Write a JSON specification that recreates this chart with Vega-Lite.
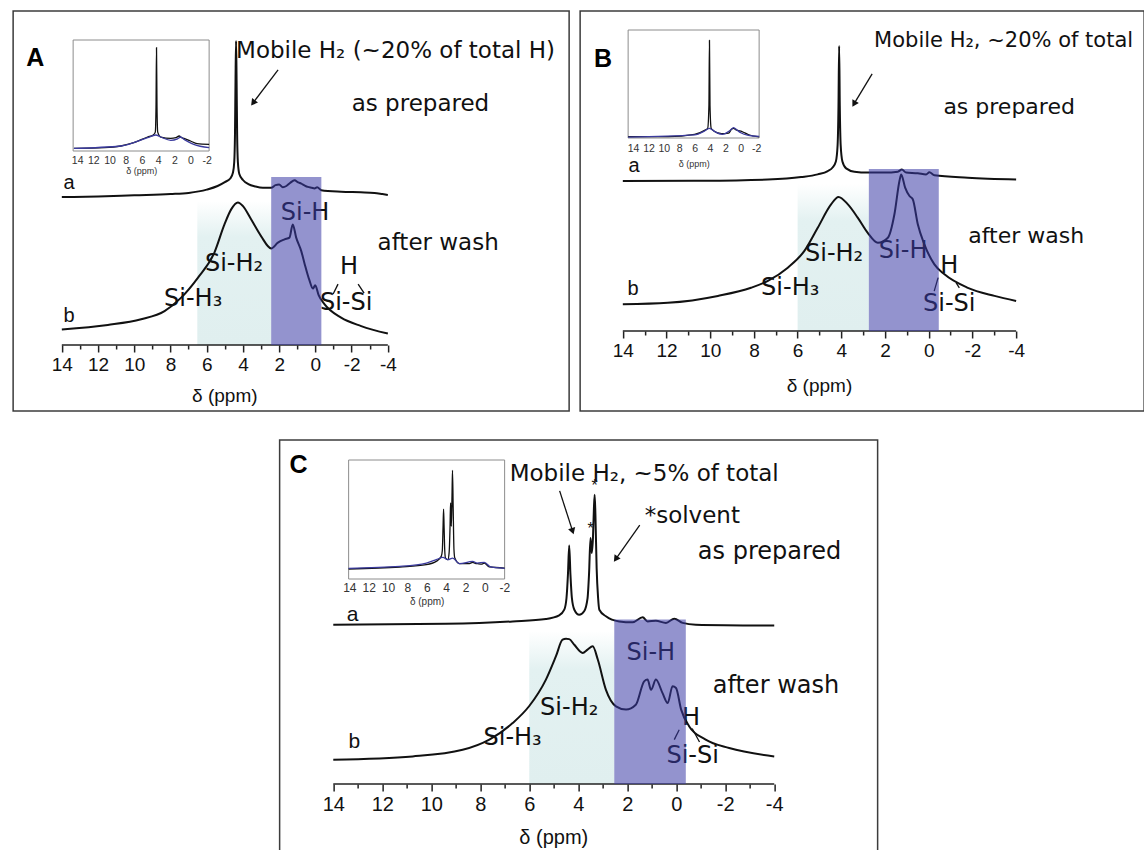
{
"$schema": "https://vega.github.io/schema/vega-lite/v6.json",
"background": "#ffffff",
"padding": {"left": 12, "top": 10, "right": 0, "bottom": 0},
"config": {"view": {"stroke": "#3c3c3c", "strokeWidth": 1.5}},
"datasets": {
"A_a": [{"ppm":14,"I":49.3},{"ppm":12,"I":49.5},{"ppm":10,"I":49.9},{"ppm":8,"I":50.3},{"ppm":7,"I":50.7},{"ppm":6,"I":51.8},{"ppm":5.4,"I":53},{"ppm":5.0,"I":54.3},{"ppm":4.7,"I":55.5},{"ppm":4.55,"I":57.5},{"ppm":4.48,"I":61},{"ppm":4.44,"I":70},{"ppm":4.41,"I":88},{"ppm":4.38,"I":101.3},{"ppm":4.35,"I":88},{"ppm":4.32,"I":70},{"ppm":4.28,"I":61},{"ppm":4.2,"I":57},{"ppm":4.0,"I":55},{"ppm":3.7,"I":53.6},{"ppm":3.3,"I":52.8},{"ppm":2.9,"I":52.4},{"ppm":2.44,"I":52.4},{"ppm":2.2,"I":53.3},{"ppm":2.0,"I":53.5},{"ppm":1.8,"I":52.6},{"ppm":1.6,"I":53},{"ppm":1.4,"I":54},{"ppm":1.15,"I":54.9},{"ppm":0.95,"I":54.2},{"ppm":0.78,"I":53.8},{"ppm":0.6,"I":53.2},{"ppm":0.42,"I":52.7},{"ppm":0.2,"I":52.4},{"ppm":0.05,"I":52.2},{"ppm":-0.1,"I":52.6},{"ppm":-0.32,"I":51.6},{"ppm":-1.42,"I":51.1},{"ppm":-2.5,"I":50.9},{"ppm":-3.26,"I":50.7},{"ppm":-3.7,"I":50.3},{"ppm":-4,"I":50.0}],
"A_b": [{"ppm":14,"I":5.2},{"ppm":11.46,"I":6.7},{"ppm":9.62,"I":8.6},{"ppm":8.33,"I":11.3},{"ppm":7.41,"I":15.8},{"ppm":6.49,"I":22.4},{"ppm":5.57,"I":30.9},{"ppm":5.02,"I":40.2},{"ppm":4.65,"I":45.2},{"ppm":4.28,"I":47.5},{"ppm":4.0,"I":46.3},{"ppm":3.55,"I":41.9},{"ppm":3.0,"I":36.3},{"ppm":2.44,"I":32.2},{"ppm":2.07,"I":34.1},{"ppm":1.7,"I":35.2},{"ppm":1.43,"I":35.8},{"ppm":1.25,"I":40.2},{"ppm":1.06,"I":35.8},{"ppm":0.78,"I":31.3},{"ppm":0.6,"I":27.2},{"ppm":0.33,"I":21.6},{"ppm":0.14,"I":18.8},{"ppm":0.01,"I":19.9},{"ppm":-0.18,"I":16.6},{"ppm":-0.5,"I":13.6},{"ppm":-1.42,"I":9.1},{"ppm":-2.53,"I":6.3},{"ppm":-4,"I":3.8}],
"A_ik": [{"ppm":14.4,"I":2.4},{"ppm":10.6,"I":3},{"ppm":8.6,"I":4.5},{"ppm":7.0,"I":7.5},{"ppm":5.3,"I":12.6},{"ppm":4.6,"I":14.5},{"ppm":4.35,"I":17},{"ppm":4.26,"I":40},{"ppm":4.2,"I":93},{"ppm":4.14,"I":40},{"ppm":4.05,"I":17},{"ppm":3.67,"I":12.6},{"ppm":2.44,"I":11.4},{"ppm":1.8,"I":12},{"ppm":1.4,"I":13.5},{"ppm":1.1,"I":12},{"ppm":0.8,"I":11.4},{"ppm":0.0,"I":9},{"ppm":-0.8,"I":6.6},{"ppm":-2.3,"I":6}],
"A_iu": [{"ppm":14.4,"I":2.4},{"ppm":8.6,"I":4.5},{"ppm":5.3,"I":12},{"ppm":4.3,"I":14.4},{"ppm":3.67,"I":12.6},{"ppm":2.44,"I":9.6},{"ppm":1.6,"I":11},{"ppm":1.2,"I":12.6},{"ppm":0.8,"I":10.5},{"ppm":0.2,"I":8},{"ppm":-0.4,"I":6},{"ppm":-2.3,"I":3}],
"A_bands": [{"band":"SiH2","ppm":6.52,"ppm2":2.44,"I":0,"I2":48},{"band":"SiH","ppm":2.44,"ppm2":-0.33,"I":0,"I2":56}],
"A_axis": [{"ppm":14,"ppm2":-4,"I":0}],
"A_inbox": [{"ppm":14.5,"ppm2":-2.3,"I":0,"I2":100}],
"A_lines": [{"ppm":-0.98,"I":17,"ppm2":-1.25,"I2":20.3},{"ppm":-2.36,"I":20.3,"ppm2":-2.69,"I2":17.3},{"ppm":2.06,"I":91.7,"ppm2":3.44,"I2":80.7}],
"A_heads": [{"ppm":3.44,"I":80.7}],
"A_text": [{"kind":"letter","ppm":15.47,"I":95.7,"label":"A"},{"kind":"head","ppm":4.38,"I":98,"label":"Mobile H₂ (~20% of total H)"},{"kind":"note","ppm":-5.8,"I":80.3,"label":"as prepared"},{"kind":"note","ppm":-6.78,"I":34,"label":"after wash"},{"kind":"si","ppm":0.57,"I":44,"label":"Si-H"},{"kind":"si","ppm":4.49,"I":27,"label":"Si-H₂"},{"kind":"si","ppm":6.75,"I":15.3,"label":"Si-H₃"},{"kind":"si","ppm":-1.86,"I":26,"label":"H"},{"kind":"si","ppm":-1.7,"I":14,"label":"Si-Si"},{"kind":"trace","ppm":13.6,"I":54,"label":"a"},{"kind":"trace","ppm":13.6,"I":9.7,"label":"b"},{"kind":"title","ppm":5,"I":-17,"label":"δ (ppm)"}],
"B_a": [{"ppm":14,"I":50},{"ppm":10.41,"I":50.1},{"ppm":7.36,"I":50.5},{"ppm":5.84,"I":51.3},{"ppm":5.08,"I":52.2},{"ppm":4.62,"I":53.3},{"ppm":4.4,"I":54.5},{"ppm":4.25,"I":56.5},{"ppm":4.17,"I":62},{"ppm":4.13,"I":75},{"ppm":4.1,"I":95},{"ppm":4.07,"I":75},{"ppm":4.03,"I":62},{"ppm":3.95,"I":56.5},{"ppm":3.78,"I":54.2},{"ppm":3.4,"I":53.1},{"ppm":2.79,"I":52.8},{"ppm":2.02,"I":52.8},{"ppm":1.41,"I":53.1},{"ppm":1.23,"I":53.8},{"ppm":1.03,"I":52.8},{"ppm":0.5,"I":52.6},{"ppm":0.12,"I":52.2},{"ppm":-0.03,"I":52.9},{"ppm":-0.26,"I":51.9},{"ppm":-1.79,"I":51.1},{"ppm":-4,"I":50.5}],
"B_b": [{"ppm":14,"I":8.9},{"ppm":11.94,"I":9.4},{"ppm":9.65,"I":11.7},{"ppm":8.13,"I":14.4},{"ppm":7.36,"I":16.7},{"ppm":6.45,"I":21.1},{"ppm":5.69,"I":26.7},{"ppm":5.08,"I":34.4},{"ppm":4.47,"I":42.2},{"ppm":4.13,"I":44.7},{"ppm":3.7,"I":42.2},{"ppm":3.25,"I":37.8},{"ppm":2.8,"I":32.8},{"ppm":2.33,"I":29.4},{"ppm":1.87,"I":31.1},{"ppm":1.57,"I":38.9},{"ppm":1.34,"I":50},{"ppm":1.26,"I":52.2},{"ppm":1.08,"I":47.8},{"ppm":0.88,"I":45},{"ppm":0.73,"I":43.9},{"ppm":0.5,"I":35.6},{"ppm":0.2,"I":28.9},{"ppm":-0.26,"I":22.2},{"ppm":-0.72,"I":18.9},{"ppm":-1.79,"I":14.4},{"ppm":-3.01,"I":11.7},{"ppm":-4,"I":10}],
"B_ik": [{"ppm":14.65,"I":1.2},{"ppm":9.45,"I":1.2},{"ppm":6.0,"I":3.4},{"ppm":4.7,"I":7.1},{"ppm":4.3,"I":9},{"ppm":4.14,"I":30},{"ppm":4.07,"I":90.4},{"ppm":4.0,"I":30},{"ppm":3.85,"I":9},{"ppm":3.55,"I":6.8},{"ppm":2.5,"I":4},{"ppm":1.58,"I":4.5},{"ppm":1.2,"I":8},{"ppm":0.93,"I":9},{"ppm":0.6,"I":7.5},{"ppm":-0.16,"I":6},{"ppm":-1.04,"I":3},{"ppm":-2.39,"I":1}],
"B_iu": [{"ppm":14.65,"I":0.9},{"ppm":6.0,"I":2.8},{"ppm":4.7,"I":6.5},{"ppm":4.07,"I":9},{"ppm":3.4,"I":6},{"ppm":2.4,"I":3.4},{"ppm":1.4,"I":7},{"ppm":0.93,"I":9.6},{"ppm":0.5,"I":7.4},{"ppm":0.0,"I":4.9},{"ppm":-1,"I":2.5},{"ppm":-2.39,"I":1.5}],
"B_bands": [{"band":"SiH2","ppm":6.0,"ppm2":2.74,"I":0,"I2":49},{"band":"SiH","ppm":2.74,"ppm2":-0.46,"I":0,"I2":54}],
"B_axis": [{"ppm":14,"ppm2":-4,"I":0}],
"B_inbox": [{"ppm":14.65,"ppm2":-2.39,"I":0,"I2":100}],
"B_lines": [{"ppm":-0.25,"I":13.3,"ppm2":-0.43,"I2":17.8},{"ppm":-1.25,"I":16.1,"ppm2":-1.4,"I2":14.4},{"ppm":2.59,"I":85.7,"ppm2":3.42,"I2":75.7}],
"B_heads": [{"ppm":3.42,"I":75.7}],
"B_text": [{"kind":"letter","ppm":14.9,"I":90.7,"label":"B"},{"kind":"head","ppm":2.5,"I":96.7,"label":"Mobile H₂, ~20% of total"},{"kind":"note","ppm":-3.68,"I":74.7,"label":"as prepared"},{"kind":"note","ppm":-4.46,"I":31.7,"label":"after wash"},{"kind":"si","ppm":1.17,"I":26.7,"label":"Si-H"},{"kind":"si","ppm":4.33,"I":25.7,"label":"Si-H₂"},{"kind":"si","ppm":6.34,"I":14.3,"label":"Si-H₃"},{"kind":"si","ppm":-0.94,"I":21.7,"label":"H"},{"kind":"si","ppm":-0.94,"I":9,"label":"Si-Si"},{"kind":"trace","ppm":13.48,"I":55,"label":"a"},{"kind":"trace","ppm":13.53,"I":14,"label":"b"},{"kind":"title","ppm":5,"I":-18.3,"label":"δ (ppm)"}],
"C_a": [{"ppm":14,"I":53.1},{"ppm":9.4,"I":53.4},{"ppm":6.68,"I":54.2},{"ppm":5.32,"I":55},{"ppm":4.78,"I":56.2},{"ppm":4.57,"I":58.1},{"ppm":4.48,"I":62},{"ppm":4.42,"I":70},{"ppm":4.37,"I":79.5},{"ppm":4.32,"I":70},{"ppm":4.26,"I":62},{"ppm":4.16,"I":58.1},{"ppm":3.96,"I":56.4},{"ppm":3.76,"I":57.6},{"ppm":3.62,"I":62},{"ppm":3.56,"I":70},{"ppm":3.5,"I":82},{"ppm":3.45,"I":77},{"ppm":3.4,"I":82},{"ppm":3.36,"I":92},{"ppm":3.33,"I":96.4},{"ppm":3.3,"I":90},{"ppm":3.25,"I":72},{"ppm":3.19,"I":62},{"ppm":3.14,"I":58.1},{"ppm":2.87,"I":55.9},{"ppm":2.33,"I":54.2},{"ppm":1.78,"I":53.9},{"ppm":1.37,"I":55.6},{"ppm":1.17,"I":54.2},{"ppm":0.83,"I":54.4},{"ppm":0.42,"I":53.7},{"ppm":0.08,"I":55.1},{"ppm":-0.26,"I":53.7},{"ppm":-0.8,"I":53.1},{"ppm":-4,"I":52.8}],
"C_b": [{"ppm":14,"I":8.1},{"ppm":10.76,"I":9.2},{"ppm":8.72,"I":11.4},{"ppm":7.63,"I":14.8},{"ppm":6.68,"I":20.3},{"ppm":6.0,"I":26},{"ppm":5.32,"I":34.8},{"ppm":4.91,"I":42.6},{"ppm":4.64,"I":48.1},{"ppm":4.5,"I":48.4},{"ppm":4.37,"I":48.3},{"ppm":4.16,"I":46.4},{"ppm":3.82,"I":43.7},{"ppm":3.62,"I":44.8},{"ppm":3.41,"I":45.9},{"ppm":3.2,"I":41.4},{"ppm":2.87,"I":31.4},{"ppm":2.46,"I":25.9},{"ppm":2.05,"I":24.8},{"ppm":1.65,"I":26.4},{"ppm":1.31,"I":34.2},{"ppm":1.17,"I":34.8},{"ppm":1.03,"I":31.4},{"ppm":0.83,"I":34.8},{"ppm":0.56,"I":30.3},{"ppm":0.35,"I":27},{"ppm":0.15,"I":32.6},{"ppm":0.01,"I":32},{"ppm":-0.2,"I":24.8},{"ppm":-0.53,"I":19.2},{"ppm":-1.2,"I":14.8},{"ppm":-2.16,"I":12},{"ppm":-4,"I":9.2}],
"C_ik": [{"ppm":14.07,"I":8.4},{"ppm":8.8,"I":10.1},{"ppm":6.05,"I":12},{"ppm":5.03,"I":14.8},{"ppm":4.51,"I":19},{"ppm":4.4,"I":24},{"ppm":4.32,"I":45},{"ppm":4.27,"I":58.8},{"ppm":4.22,"I":45},{"ppm":4.15,"I":24},{"ppm":4.07,"I":17.6},{"ppm":3.83,"I":16.2},{"ppm":3.7,"I":22},{"ppm":3.6,"I":45},{"ppm":3.55,"I":63.9},{"ppm":3.47,"I":44.3},{"ppm":3.4,"I":70},{"ppm":3.35,"I":91.3},{"ppm":3.28,"I":60},{"ppm":3.2,"I":25},{"ppm":3.11,"I":17.6},{"ppm":2.63,"I":12.9},{"ppm":1.6,"I":13},{"ppm":1.26,"I":14},{"ppm":1.0,"I":13.2},{"ppm":0.75,"I":12.9},{"ppm":0.3,"I":12.5},{"ppm":0.06,"I":13.4},{"ppm":-0.45,"I":10.1},{"ppm":-2.03,"I":9.2}],
"C_iu": [{"ppm":14.07,"I":9},{"ppm":8.8,"I":10.6},{"ppm":6.05,"I":13.4},{"ppm":5.03,"I":16.2},{"ppm":4.34,"I":18.2},{"ppm":3.83,"I":16.2},{"ppm":3.32,"I":17.6},{"ppm":2.63,"I":12.9},{"ppm":1.26,"I":14.8},{"ppm":0.8,"I":13.4},{"ppm":0.06,"I":14},{"ppm":-0.6,"I":10.1},{"ppm":-2.03,"I":9}],
"C_bands": [{"band":"SiH2","ppm":6.0,"ppm2":2.53,"I":0,"I2":51},{"band":"SiH","ppm":2.53,"ppm2":-0.39,"I":0,"I2":54.8}],
"C_axis": [{"ppm":14,"ppm2":-4,"I":0}],
"C_inbox": [{"ppm":14.07,"ppm2":-2.03,"I":0,"I2":100}],
"C_lines": [{"ppm":0.08,"I":14.8,"ppm2":-0.12,"I2":18.1},{"ppm":-0.65,"I":18.5,"ppm2":-0.95,"I2":14},{"ppm":4.76,"I":97.7,"ppm2":4.23,"I2":84.3},{"ppm":1.49,"I":86.3,"ppm2":2.47,"I2":75}],
"C_heads": [{"target":"H2","ppm":4.23,"I":84.3},{"target":"solvent","ppm":2.47,"I":75}],
"C_text": [{"kind":"letter","ppm":15.42,"I":106.3,"label":"C"},{"kind":"head","ppm":6.8,"I":103.5,"label":"Mobile H₂, ~5% of total"},{"kind":"head","ppm":1.29,"I":89.3,"label":"*solvent"},{"kind":"note","ppm":-3.81,"I":77.5,"label":"as prepared"},{"kind":"note","ppm":-4.07,"I":32.7,"label":"after wash"},{"kind":"si","ppm":1.04,"I":43.7,"label":"Si-H"},{"kind":"si","ppm":4.37,"I":25.3,"label":"Si-H₂"},{"kind":"si","ppm":6.68,"I":15.3,"label":"Si-H₃"},{"kind":"si","ppm":-0.6,"I":22,"label":"H"},{"kind":"si","ppm":-0.67,"I":9.2,"label":"Si-Si"},{"kind":"trace","ppm":13.21,"I":56.4,"label":"a"},{"kind":"trace","ppm":13.14,"I":13.9,"label":"b"},{"kind":"star","ppm":3.33,"I":99.5,"label":"*"},{"kind":"star","ppm":3.5,"I":85,"label":"*"},{"kind":"title","ppm":5,"I":-18,"label":"δ (ppm)"}]
},
"center": true,
"spacing": 27,
"vconcat": [
{"bounds": "flush", "spacing": 11, "hconcat": [
{
"width": 556, "height": 400,
"resolve": {"scale": {"x": "independent", "y": "independent"}, "axis": {"x": "independent", "y": "independent"}},
"layer": [
{"data": {"name": "A_bands"}, "transform": [{"filter": "datum.band == 'SiH2'"}], "mark": {"type": "rect", "fill": {"gradient": "linear", "x1": 0, "y1": 0, "x2": 0, "y2": 1, "stops": [{"offset": 0, "color": "#ffffff"}, {"offset": 0.25, "color": "#e3f1f1"}, {"offset": 1, "color": "#e0efef"}]}}, "encoding": {"x": {"field": "ppm", "type": "quantitative", "scale": {"domain": [16.689, -14.01], "nice": false, "zero": false}, "axis": null}, "x2": {"field": "ppm2"}, "y": {"field": "I", "type": "quantitative", "scale": {"domain": [-22, 111.33], "nice": false, "zero": false}, "axis": null}, "y2": {"field": "I2"}}},
{"data": {"name": "A_a"}, "mark": {"type": "line", "color": "#111", "strokeWidth": 2, "interpolate": "monotone"}, "encoding": {"x": {"field": "ppm", "type": "quantitative", "scale": {"domain": [16.689, -14.01], "nice": false, "zero": false}, "axis": null}, "y": {"field": "I", "type": "quantitative", "scale": {"domain": [-22, 111.33], "nice": false, "zero": false}, "axis": null}}},
{"data": {"name": "A_b"}, "mark": {"type": "line", "color": "#111", "strokeWidth": 2, "interpolate": "monotone"}, "encoding": {"x": {"field": "ppm", "type": "quantitative", "scale": {"domain": [16.689, -14.01], "nice": false, "zero": false}, "axis": null}, "y": {"field": "I", "type": "quantitative", "scale": {"domain": [-22, 111.33], "nice": false, "zero": false}, "axis": null}}},
{"data": {"name": "A_axis"}, "mark": {"type": "rule", "color": "#222", "strokeWidth": 1.5}, "encoding": {"x": {"field": "ppm", "type": "quantitative", "scale": {"domain": [16.689, -14.01], "nice": false, "zero": false}, "axis": {"orient": "bottom", "values": [14,13,12,11,10,9,8,7,6,5,4,3,2,1,0,-1,-2,-3,-4], "labelExpr": "datum.value % 2 === 0 ? '' + datum.value : ''", "offset": -66, "domain": false, "ticks": true, "tickSize": {"condition": {"test": "datum.value % 2 === 0", "value": 7}, "value": 4}, "tickColor": "#222", "tickWidth": 1.5, "labelFont": "Liberation Sans", "labelFontSize": 19, "labelColor": "#111", "labelPadding": 3, "grid": false, "title": null, "labelFlush": false, "labelOverlap": false, "labelBound": false}}, "x2": {"field": "ppm2"}, "y": {"field": "I", "type": "quantitative", "scale": {"domain": [-22, 111.33], "nice": false, "zero": false}, "axis": null}}},
{"data": {"name": "A_lines"}, "mark": {"type": "rule", "color": "#111", "strokeWidth": 1.3}, "encoding": {"x": {"field": "ppm", "type": "quantitative", "scale": {"domain": [16.689, -14.01], "nice": false, "zero": false}, "axis": null}, "x2": {"field": "ppm2"}, "y": {"field": "I", "type": "quantitative", "scale": {"domain": [-22, 111.33], "nice": false, "zero": false}, "axis": null}, "y2": {"field": "I2"}}},
{"data": {"name": "A_heads"}, "mark": {"type": "point", "shape": "triangle-up", "filled": true, "color": "#111", "size": 55, "angle": 217, "opacity": 1}, "encoding": {"x": {"field": "ppm", "type": "quantitative", "scale": {"domain": [16.689, -14.01], "nice": false, "zero": false}, "axis": null}, "y": {"field": "I", "type": "quantitative", "scale": {"domain": [-22, 111.33], "nice": false, "zero": false}, "axis": null}}},
{"data": {"name": "A_text"}, "transform": [{"filter": "datum.kind == 'letter'"}], "mark": {"type": "text", "font": "Liberation Sans", "fontWeight": "bold", "fontSize": 25, "align": "center", "baseline": "middle", "color": "#000"}, "encoding": {"x": {"field": "ppm", "type": "quantitative", "scale": {"domain": [16.689, -14.01], "nice": false, "zero": false}, "axis": null}, "y": {"field": "I", "type": "quantitative", "scale": {"domain": [-22, 111.33], "nice": false, "zero": false}, "axis": null}, "text": {"field": "label"}}},
{"data": {"name": "A_text"}, "transform": [{"filter": "datum.kind == 'head'"}], "mark": {"type": "text", "font": "DejaVu Sans", "fontSize": 23, "align": "left", "baseline": "middle", "color": "#111"}, "encoding": {"x": {"field": "ppm", "type": "quantitative", "scale": {"domain": [16.689, -14.01], "nice": false, "zero": false}, "axis": null}, "y": {"field": "I", "type": "quantitative", "scale": {"domain": [-22, 111.33], "nice": false, "zero": false}, "axis": null}, "text": {"field": "label"}}},
{"data": {"name": "A_text"}, "transform": [{"filter": "datum.kind == 'note'"}], "mark": {"type": "text", "font": "DejaVu Sans", "fontSize": 23, "align": "center", "baseline": "middle", "color": "#111"}, "encoding": {"x": {"field": "ppm", "type": "quantitative", "scale": {"domain": [16.689, -14.01], "nice": false, "zero": false}, "axis": null}, "y": {"field": "I", "type": "quantitative", "scale": {"domain": [-22, 111.33], "nice": false, "zero": false}, "axis": null}, "text": {"field": "label"}}},
{"data": {"name": "A_text"}, "transform": [{"filter": "datum.kind == 'si'"}], "mark": {"type": "text", "font": "DejaVu Sans", "fontSize": 24, "align": "center", "baseline": "middle", "color": "#111"}, "encoding": {"x": {"field": "ppm", "type": "quantitative", "scale": {"domain": [16.689, -14.01], "nice": false, "zero": false}, "axis": null}, "y": {"field": "I", "type": "quantitative", "scale": {"domain": [-22, 111.33], "nice": false, "zero": false}, "axis": null}, "text": {"field": "label"}}},
{"data": {"name": "A_text"}, "transform": [{"filter": "datum.kind == 'trace'"}], "mark": {"type": "text", "font": "Liberation Sans", "fontSize": 20, "align": "center", "baseline": "middle", "color": "#111"}, "encoding": {"x": {"field": "ppm", "type": "quantitative", "scale": {"domain": [16.689, -14.01], "nice": false, "zero": false}, "axis": null}, "y": {"field": "I", "type": "quantitative", "scale": {"domain": [-22, 111.33], "nice": false, "zero": false}, "axis": null}, "text": {"field": "label"}}},
{"data": {"name": "A_text"}, "transform": [{"filter": "datum.kind == 'title'"}], "mark": {"type": "text", "font": "Liberation Sans", "fontSize": 19, "align": "center", "baseline": "middle", "color": "#111"}, "encoding": {"x": {"field": "ppm", "type": "quantitative", "scale": {"domain": [16.689, -14.01], "nice": false, "zero": false}, "axis": null}, "y": {"field": "I", "type": "quantitative", "scale": {"domain": [-22, 111.33], "nice": false, "zero": false}, "axis": null}, "text": {"field": "label"}}},
{"data": {"name": "A_bands"}, "transform": [{"filter": "datum.band == 'SiH'"}], "mark": {"type": "rect", "color": "#3a3aa6", "opacity": 0.55}, "encoding": {"x": {"field": "ppm", "type": "quantitative", "scale": {"domain": [16.689, -14.01], "nice": false, "zero": false}, "axis": null}, "x2": {"field": "ppm2"}, "y": {"field": "I", "type": "quantitative", "scale": {"domain": [-22, 111.33], "nice": false, "zero": false}, "axis": null}, "y2": {"field": "I2"}}},
{"data": {"name": "A_inbox"}, "mark": {"type": "rect", "fillOpacity": 0, "stroke": "#8c8c8c", "strokeWidth": 1}, "encoding": {"x": {"field": "ppm", "type": "quantitative", "scale": {"domain": [14.5, -2.3], "range": [60, 196], "nice": false, "zero": false}, "axis": {"orient": "bottom", "values": [14,12,10,8,6,4,2,0,-2], "labelExpr": "'' + datum.value", "offset": -260, "domain": false, "ticks": false, "labelFont": "Liberation Sans", "labelFontSize": 10.5, "labelColor": "#333", "labelPadding": 4, "grid": false, "title": "δ (ppm)", "titleFont": "Liberation Sans", "titleFontSize": 9, "titleFontWeight": "normal", "titleColor": "#333", "titlePadding": 1, "labelFlush": false, "labelOverlap": false, "labelBound": false}}, "x2": {"field": "ppm2"}, "y": {"field": "I", "type": "quantitative", "scale": {"domain": [0, 100], "range": [140, 29], "nice": false, "zero": false}, "axis": null}, "y2": {"field": "I2"}}},
{"data": {"name": "A_ik"}, "mark": {"type": "line", "color": "#111", "strokeWidth": 1.3, "interpolate": "monotone"}, "encoding": {"x": {"field": "ppm", "type": "quantitative", "scale": {"domain": [14.5, -2.3], "range": [60, 196], "nice": false, "zero": false}, "axis": null}, "y": {"field": "I", "type": "quantitative", "scale": {"domain": [0, 100], "range": [140, 29], "nice": false, "zero": false}, "axis": null}}},
{"data": {"name": "A_iu"}, "mark": {"type": "line", "color": "#3b3b9e", "strokeWidth": 1.3, "interpolate": "monotone"}, "encoding": {"x": {"field": "ppm", "type": "quantitative", "scale": {"domain": [14.5, -2.3], "range": [60, 196], "nice": false, "zero": false}, "axis": null}, "y": {"field": "I", "type": "quantitative", "scale": {"domain": [0, 100], "range": [140, 29], "nice": false, "zero": false}, "axis": null}}}
]
},
{
"width": 564, "height": 400,
"resolve": {"scale": {"x": "independent", "y": "independent"}, "axis": {"x": "independent", "y": "independent"}},
"layer": [
{"data": {"name": "B_bands"}, "transform": [{"filter": "datum.band == 'SiH2'"}], "mark": {"type": "rect", "fill": {"gradient": "linear", "x1": 0, "y1": 0, "x2": 0, "y2": 1, "stops": [{"offset": 0, "color": "#ffffff"}, {"offset": 0.25, "color": "#e3f1f1"}, {"offset": 1, "color": "#e0efef"}]}}, "encoding": {"x": {"field": "ppm", "type": "quantitative", "scale": {"domain": [15.954, -9.858], "nice": false, "zero": false}, "axis": null}, "x2": {"field": "ppm2"}, "y": {"field": "I", "type": "quantitative", "scale": {"domain": [-26.67, 106.67], "nice": false, "zero": false}, "axis": null}, "y2": {"field": "I2"}}},
{"data": {"name": "B_a"}, "mark": {"type": "line", "color": "#111", "strokeWidth": 2, "interpolate": "monotone"}, "encoding": {"x": {"field": "ppm", "type": "quantitative", "scale": {"domain": [15.954, -9.858], "nice": false, "zero": false}, "axis": null}, "y": {"field": "I", "type": "quantitative", "scale": {"domain": [-26.67, 106.67], "nice": false, "zero": false}, "axis": null}}},
{"data": {"name": "B_b"}, "mark": {"type": "line", "color": "#111", "strokeWidth": 2, "interpolate": "monotone"}, "encoding": {"x": {"field": "ppm", "type": "quantitative", "scale": {"domain": [15.954, -9.858], "nice": false, "zero": false}, "axis": null}, "y": {"field": "I", "type": "quantitative", "scale": {"domain": [-26.67, 106.67], "nice": false, "zero": false}, "axis": null}}},
{"data": {"name": "B_axis"}, "mark": {"type": "rule", "color": "#222", "strokeWidth": 1.5}, "encoding": {"x": {"field": "ppm", "type": "quantitative", "scale": {"domain": [15.954, -9.858], "nice": false, "zero": false}, "axis": {"orient": "bottom", "values": [14,13,12,11,10,9,8,7,6,5,4,3,2,1,0,-1,-2,-3,-4], "labelExpr": "datum.value % 2 === 0 ? '' + datum.value : ''", "offset": -80, "domain": false, "ticks": true, "tickSize": {"condition": {"test": "datum.value % 2 === 0", "value": 7}, "value": 4}, "tickColor": "#222", "tickWidth": 1.5, "labelFont": "Liberation Sans", "labelFontSize": 19, "labelColor": "#111", "labelPadding": 3, "grid": false, "title": null, "labelFlush": false, "labelOverlap": false, "labelBound": false}}, "x2": {"field": "ppm2"}, "y": {"field": "I", "type": "quantitative", "scale": {"domain": [-26.67, 106.67], "nice": false, "zero": false}, "axis": null}}},
{"data": {"name": "B_lines"}, "mark": {"type": "rule", "color": "#111", "strokeWidth": 1.3}, "encoding": {"x": {"field": "ppm", "type": "quantitative", "scale": {"domain": [15.954, -9.858], "nice": false, "zero": false}, "axis": null}, "x2": {"field": "ppm2"}, "y": {"field": "I", "type": "quantitative", "scale": {"domain": [-26.67, 106.67], "nice": false, "zero": false}, "axis": null}, "y2": {"field": "I2"}}},
{"data": {"name": "B_heads"}, "mark": {"type": "point", "shape": "triangle-up", "filled": true, "color": "#111", "size": 55, "angle": 210, "opacity": 1}, "encoding": {"x": {"field": "ppm", "type": "quantitative", "scale": {"domain": [15.954, -9.858], "nice": false, "zero": false}, "axis": null}, "y": {"field": "I", "type": "quantitative", "scale": {"domain": [-26.67, 106.67], "nice": false, "zero": false}, "axis": null}}},
{"data": {"name": "B_text"}, "transform": [{"filter": "datum.kind == 'letter'"}], "mark": {"type": "text", "font": "Liberation Sans", "fontWeight": "bold", "fontSize": 25, "align": "center", "baseline": "middle", "color": "#000"}, "encoding": {"x": {"field": "ppm", "type": "quantitative", "scale": {"domain": [15.954, -9.858], "nice": false, "zero": false}, "axis": null}, "y": {"field": "I", "type": "quantitative", "scale": {"domain": [-26.67, 106.67], "nice": false, "zero": false}, "axis": null}, "text": {"field": "label"}}},
{"data": {"name": "B_text"}, "transform": [{"filter": "datum.kind == 'head'"}], "mark": {"type": "text", "font": "DejaVu Sans", "fontSize": 21, "align": "left", "baseline": "middle", "color": "#111"}, "encoding": {"x": {"field": "ppm", "type": "quantitative", "scale": {"domain": [15.954, -9.858], "nice": false, "zero": false}, "axis": null}, "y": {"field": "I", "type": "quantitative", "scale": {"domain": [-26.67, 106.67], "nice": false, "zero": false}, "axis": null}, "text": {"field": "label"}}},
{"data": {"name": "B_text"}, "transform": [{"filter": "datum.kind == 'note'"}], "mark": {"type": "text", "font": "DejaVu Sans", "fontSize": 22, "align": "center", "baseline": "middle", "color": "#111"}, "encoding": {"x": {"field": "ppm", "type": "quantitative", "scale": {"domain": [15.954, -9.858], "nice": false, "zero": false}, "axis": null}, "y": {"field": "I", "type": "quantitative", "scale": {"domain": [-26.67, 106.67], "nice": false, "zero": false}, "axis": null}, "text": {"field": "label"}}},
{"data": {"name": "B_text"}, "transform": [{"filter": "datum.kind == 'si'"}], "mark": {"type": "text", "font": "DejaVu Sans", "fontSize": 24, "align": "center", "baseline": "middle", "color": "#111"}, "encoding": {"x": {"field": "ppm", "type": "quantitative", "scale": {"domain": [15.954, -9.858], "nice": false, "zero": false}, "axis": null}, "y": {"field": "I", "type": "quantitative", "scale": {"domain": [-26.67, 106.67], "nice": false, "zero": false}, "axis": null}, "text": {"field": "label"}}},
{"data": {"name": "B_text"}, "transform": [{"filter": "datum.kind == 'trace'"}], "mark": {"type": "text", "font": "Liberation Sans", "fontSize": 20, "align": "center", "baseline": "middle", "color": "#111"}, "encoding": {"x": {"field": "ppm", "type": "quantitative", "scale": {"domain": [15.954, -9.858], "nice": false, "zero": false}, "axis": null}, "y": {"field": "I", "type": "quantitative", "scale": {"domain": [-26.67, 106.67], "nice": false, "zero": false}, "axis": null}, "text": {"field": "label"}}},
{"data": {"name": "B_text"}, "transform": [{"filter": "datum.kind == 'title'"}], "mark": {"type": "text", "font": "Liberation Sans", "fontSize": 19, "align": "center", "baseline": "middle", "color": "#111"}, "encoding": {"x": {"field": "ppm", "type": "quantitative", "scale": {"domain": [15.954, -9.858], "nice": false, "zero": false}, "axis": null}, "y": {"field": "I", "type": "quantitative", "scale": {"domain": [-26.67, 106.67], "nice": false, "zero": false}, "axis": null}, "text": {"field": "label"}}},
{"data": {"name": "B_bands"}, "transform": [{"filter": "datum.band == 'SiH'"}], "mark": {"type": "rect", "color": "#3a3aa6", "opacity": 0.55}, "encoding": {"x": {"field": "ppm", "type": "quantitative", "scale": {"domain": [15.954, -9.858], "nice": false, "zero": false}, "axis": null}, "x2": {"field": "ppm2"}, "y": {"field": "I", "type": "quantitative", "scale": {"domain": [-26.67, 106.67], "nice": false, "zero": false}, "axis": null}, "y2": {"field": "I2"}}},
{"data": {"name": "B_inbox"}, "mark": {"type": "rect", "fillOpacity": 0, "stroke": "#8c8c8c", "strokeWidth": 1}, "encoding": {"x": {"field": "ppm", "type": "quantitative", "scale": {"domain": [14.65, -2.39], "range": [48, 179], "nice": false, "zero": false}, "axis": {"orient": "bottom", "values": [14,12,10,8,6,4,2,0,-2], "labelExpr": "'' + datum.value", "offset": -273, "domain": false, "ticks": false, "labelFont": "Liberation Sans", "labelFontSize": 10.5, "labelColor": "#333", "labelPadding": 5, "grid": false, "title": "δ (ppm)", "titleFont": "Liberation Sans", "titleFontSize": 9, "titleFontWeight": "normal", "titleColor": "#333", "titlePadding": 6, "labelFlush": false, "labelOverlap": false, "labelBound": false}}, "x2": {"field": "ppm2"}, "y": {"field": "I", "type": "quantitative", "scale": {"domain": [0, 100], "range": [127, 19], "nice": false, "zero": false}, "axis": null}, "y2": {"field": "I2"}}},
{"data": {"name": "B_ik"}, "mark": {"type": "line", "color": "#111", "strokeWidth": 1.3, "interpolate": "monotone"}, "encoding": {"x": {"field": "ppm", "type": "quantitative", "scale": {"domain": [14.65, -2.39], "range": [48, 179], "nice": false, "zero": false}, "axis": null}, "y": {"field": "I", "type": "quantitative", "scale": {"domain": [0, 100], "range": [127, 19], "nice": false, "zero": false}, "axis": null}}},
{"data": {"name": "B_iu"}, "mark": {"type": "line", "color": "#3b3b9e", "strokeWidth": 1.3, "interpolate": "monotone"}, "encoding": {"x": {"field": "ppm", "type": "quantitative", "scale": {"domain": [14.65, -2.39], "range": [48, 179], "nice": false, "zero": false}, "axis": null}, "y": {"field": "I", "type": "quantitative", "scale": {"domain": [0, 100], "range": [127, 19], "nice": false, "zero": false}, "axis": null}}}
]
}
]},
{
"width": 598, "height": 411,
"resolve": {"scale": {"x": "independent", "y": "independent"}, "axis": {"x": "independent", "y": "independent"}},
"layer": [
{"data": {"name": "C_bands"}, "transform": [{"filter": "datum.band == 'SiH2'"}], "mark": {"type": "rect", "fill": {"gradient": "linear", "x1": 0, "y1": 0, "x2": 0, "y2": 1, "stops": [{"offset": 0, "color": "#ffffff"}, {"offset": 0.25, "color": "#e3f1f1"}, {"offset": 1, "color": "#e0efef"}]}}, "encoding": {"x": {"field": "ppm", "type": "quantitative", "scale": {"domain": [16.19, -8.22], "nice": false, "zero": false}, "axis": null}, "x2": {"field": "ppm2"}, "y": {"field": "I", "type": "quantitative", "scale": {"domain": [-22.33, 114.67], "nice": false, "zero": false}, "axis": null}, "y2": {"field": "I2"}}},
{"data": {"name": "C_a"}, "mark": {"type": "line", "color": "#111", "strokeWidth": 2, "interpolate": "monotone"}, "encoding": {"x": {"field": "ppm", "type": "quantitative", "scale": {"domain": [16.19, -8.22], "nice": false, "zero": false}, "axis": null}, "y": {"field": "I", "type": "quantitative", "scale": {"domain": [-22.33, 114.67], "nice": false, "zero": false}, "axis": null}}},
{"data": {"name": "C_b"}, "mark": {"type": "line", "color": "#111", "strokeWidth": 2, "interpolate": "monotone"}, "encoding": {"x": {"field": "ppm", "type": "quantitative", "scale": {"domain": [16.19, -8.22], "nice": false, "zero": false}, "axis": null}, "y": {"field": "I", "type": "quantitative", "scale": {"domain": [-22.33, 114.67], "nice": false, "zero": false}, "axis": null}}},
{"data": {"name": "C_axis"}, "mark": {"type": "rule", "color": "#222", "strokeWidth": 1.5}, "encoding": {"x": {"field": "ppm", "type": "quantitative", "scale": {"domain": [16.19, -8.22], "nice": false, "zero": false}, "axis": {"orient": "bottom", "values": [14,13,12,11,10,9,8,7,6,5,4,3,2,1,0,-1,-2,-3,-4], "labelExpr": "datum.value % 2 === 0 ? '' + datum.value : ''", "offset": -67, "domain": false, "ticks": true, "tickSize": {"condition": {"test": "datum.value % 2 === 0", "value": 7}, "value": 4}, "tickColor": "#222", "tickWidth": 1.5, "labelFont": "Liberation Sans", "labelFontSize": 20, "labelColor": "#111", "labelPadding": 3, "grid": false, "title": null, "labelFlush": false, "labelOverlap": false, "labelBound": false}}, "x2": {"field": "ppm2"}, "y": {"field": "I", "type": "quantitative", "scale": {"domain": [-22.33, 114.67], "nice": false, "zero": false}, "axis": null}}},
{"data": {"name": "C_lines"}, "mark": {"type": "rule", "color": "#111", "strokeWidth": 1.3}, "encoding": {"x": {"field": "ppm", "type": "quantitative", "scale": {"domain": [16.19, -8.22], "nice": false, "zero": false}, "axis": null}, "x2": {"field": "ppm2"}, "y": {"field": "I", "type": "quantitative", "scale": {"domain": [-22.33, 114.67], "nice": false, "zero": false}, "axis": null}, "y2": {"field": "I2"}}},
{"data": {"name": "C_heads"}, "transform": [{"filter": "datum.target == 'H2'"}], "mark": {"type": "point", "shape": "triangle-up", "filled": true, "color": "#111", "size": 55, "angle": 162, "opacity": 1}, "encoding": {"x": {"field": "ppm", "type": "quantitative", "scale": {"domain": [16.19, -8.22], "nice": false, "zero": false}, "axis": null}, "y": {"field": "I", "type": "quantitative", "scale": {"domain": [-22.33, 114.67], "nice": false, "zero": false}, "axis": null}}},
{"data": {"name": "C_heads"}, "transform": [{"filter": "datum.target == 'solvent'"}], "mark": {"type": "point", "shape": "triangle-up", "filled": true, "color": "#111", "size": 55, "angle": 215, "opacity": 1}, "encoding": {"x": {"field": "ppm", "type": "quantitative", "scale": {"domain": [16.19, -8.22], "nice": false, "zero": false}, "axis": null}, "y": {"field": "I", "type": "quantitative", "scale": {"domain": [-22.33, 114.67], "nice": false, "zero": false}, "axis": null}}},
{"data": {"name": "C_text"}, "transform": [{"filter": "datum.kind == 'letter'"}], "mark": {"type": "text", "font": "Liberation Sans", "fontWeight": "bold", "fontSize": 25, "align": "center", "baseline": "middle", "color": "#000"}, "encoding": {"x": {"field": "ppm", "type": "quantitative", "scale": {"domain": [16.19, -8.22], "nice": false, "zero": false}, "axis": null}, "y": {"field": "I", "type": "quantitative", "scale": {"domain": [-22.33, 114.67], "nice": false, "zero": false}, "axis": null}, "text": {"field": "label"}}},
{"data": {"name": "C_text"}, "transform": [{"filter": "datum.kind == 'head'"}], "mark": {"type": "text", "font": "DejaVu Sans", "fontSize": 23, "align": "left", "baseline": "middle", "color": "#111"}, "encoding": {"x": {"field": "ppm", "type": "quantitative", "scale": {"domain": [16.19, -8.22], "nice": false, "zero": false}, "axis": null}, "y": {"field": "I", "type": "quantitative", "scale": {"domain": [-22.33, 114.67], "nice": false, "zero": false}, "axis": null}, "text": {"field": "label"}}},
{"data": {"name": "C_text"}, "transform": [{"filter": "datum.kind == 'note'"}], "mark": {"type": "text", "font": "DejaVu Sans", "fontSize": 24, "align": "center", "baseline": "middle", "color": "#111"}, "encoding": {"x": {"field": "ppm", "type": "quantitative", "scale": {"domain": [16.19, -8.22], "nice": false, "zero": false}, "axis": null}, "y": {"field": "I", "type": "quantitative", "scale": {"domain": [-22.33, 114.67], "nice": false, "zero": false}, "axis": null}, "text": {"field": "label"}}},
{"data": {"name": "C_text"}, "transform": [{"filter": "datum.kind == 'si'"}], "mark": {"type": "text", "font": "DejaVu Sans", "fontSize": 24, "align": "center", "baseline": "middle", "color": "#111"}, "encoding": {"x": {"field": "ppm", "type": "quantitative", "scale": {"domain": [16.19, -8.22], "nice": false, "zero": false}, "axis": null}, "y": {"field": "I", "type": "quantitative", "scale": {"domain": [-22.33, 114.67], "nice": false, "zero": false}, "axis": null}, "text": {"field": "label"}}},
{"data": {"name": "C_text"}, "transform": [{"filter": "datum.kind == 'trace'"}], "mark": {"type": "text", "font": "Liberation Sans", "fontSize": 21, "align": "center", "baseline": "middle", "color": "#111"}, "encoding": {"x": {"field": "ppm", "type": "quantitative", "scale": {"domain": [16.19, -8.22], "nice": false, "zero": false}, "axis": null}, "y": {"field": "I", "type": "quantitative", "scale": {"domain": [-22.33, 114.67], "nice": false, "zero": false}, "axis": null}, "text": {"field": "label"}}},
{"data": {"name": "C_text"}, "transform": [{"filter": "datum.kind == 'star'"}], "mark": {"type": "text", "font": "Liberation Sans", "fontSize": 16, "align": "center", "baseline": "middle", "color": "#111"}, "encoding": {"x": {"field": "ppm", "type": "quantitative", "scale": {"domain": [16.19, -8.22], "nice": false, "zero": false}, "axis": null}, "y": {"field": "I", "type": "quantitative", "scale": {"domain": [-22.33, 114.67], "nice": false, "zero": false}, "axis": null}, "text": {"field": "label"}}},
{"data": {"name": "C_text"}, "transform": [{"filter": "datum.kind == 'title'"}], "mark": {"type": "text", "font": "Liberation Sans", "fontSize": 20, "align": "center", "baseline": "middle", "color": "#111"}, "encoding": {"x": {"field": "ppm", "type": "quantitative", "scale": {"domain": [16.19, -8.22], "nice": false, "zero": false}, "axis": null}, "y": {"field": "I", "type": "quantitative", "scale": {"domain": [-22.33, 114.67], "nice": false, "zero": false}, "axis": null}, "text": {"field": "label"}}},
{"data": {"name": "C_bands"}, "transform": [{"filter": "datum.band == 'SiH'"}], "mark": {"type": "rect", "color": "#3a3aa6", "opacity": 0.55}, "encoding": {"x": {"field": "ppm", "type": "quantitative", "scale": {"domain": [16.19, -8.22], "nice": false, "zero": false}, "axis": null}, "x2": {"field": "ppm2"}, "y": {"field": "I", "type": "quantitative", "scale": {"domain": [-22.33, 114.67], "nice": false, "zero": false}, "axis": null}, "y2": {"field": "I2"}}},
{"data": {"name": "C_inbox"}, "mark": {"type": "rect", "fillOpacity": 0, "stroke": "#8c8c8c", "strokeWidth": 1}, "encoding": {"x": {"field": "ppm", "type": "quantitative", "scale": {"domain": [14.07, -2.03], "range": [69, 225], "nice": false, "zero": false}, "axis": {"orient": "bottom", "values": [14,12,10,8,6,4,2,0,-2], "labelExpr": "'' + datum.value", "offset": -272, "domain": false, "ticks": false, "labelFont": "Liberation Sans", "labelFontSize": 12, "labelColor": "#333", "labelPadding": 3, "grid": false, "title": "δ (ppm)", "titleFont": "Liberation Sans", "titleFontSize": 10, "titleFontWeight": "normal", "titleColor": "#333", "titlePadding": 3, "labelFlush": false, "labelOverlap": false, "labelBound": false}}, "x2": {"field": "ppm2"}, "y": {"field": "I", "type": "quantitative", "scale": {"domain": [0, 100], "range": [139, 20], "nice": false, "zero": false}, "axis": null}, "y2": {"field": "I2"}}},
{"data": {"name": "C_ik"}, "mark": {"type": "line", "color": "#111", "strokeWidth": 1.3, "interpolate": "monotone"}, "encoding": {"x": {"field": "ppm", "type": "quantitative", "scale": {"domain": [14.07, -2.03], "range": [69, 225], "nice": false, "zero": false}, "axis": null}, "y": {"field": "I", "type": "quantitative", "scale": {"domain": [0, 100], "range": [139, 20], "nice": false, "zero": false}, "axis": null}}},
{"data": {"name": "C_iu"}, "mark": {"type": "line", "color": "#3b3b9e", "strokeWidth": 1.3, "interpolate": "monotone"}, "encoding": {"x": {"field": "ppm", "type": "quantitative", "scale": {"domain": [14.07, -2.03], "range": [69, 225], "nice": false, "zero": false}, "axis": null}, "y": {"field": "I", "type": "quantitative", "scale": {"domain": [0, 100], "range": [139, 20], "nice": false, "zero": false}, "axis": null}}}
]
}
]
}
